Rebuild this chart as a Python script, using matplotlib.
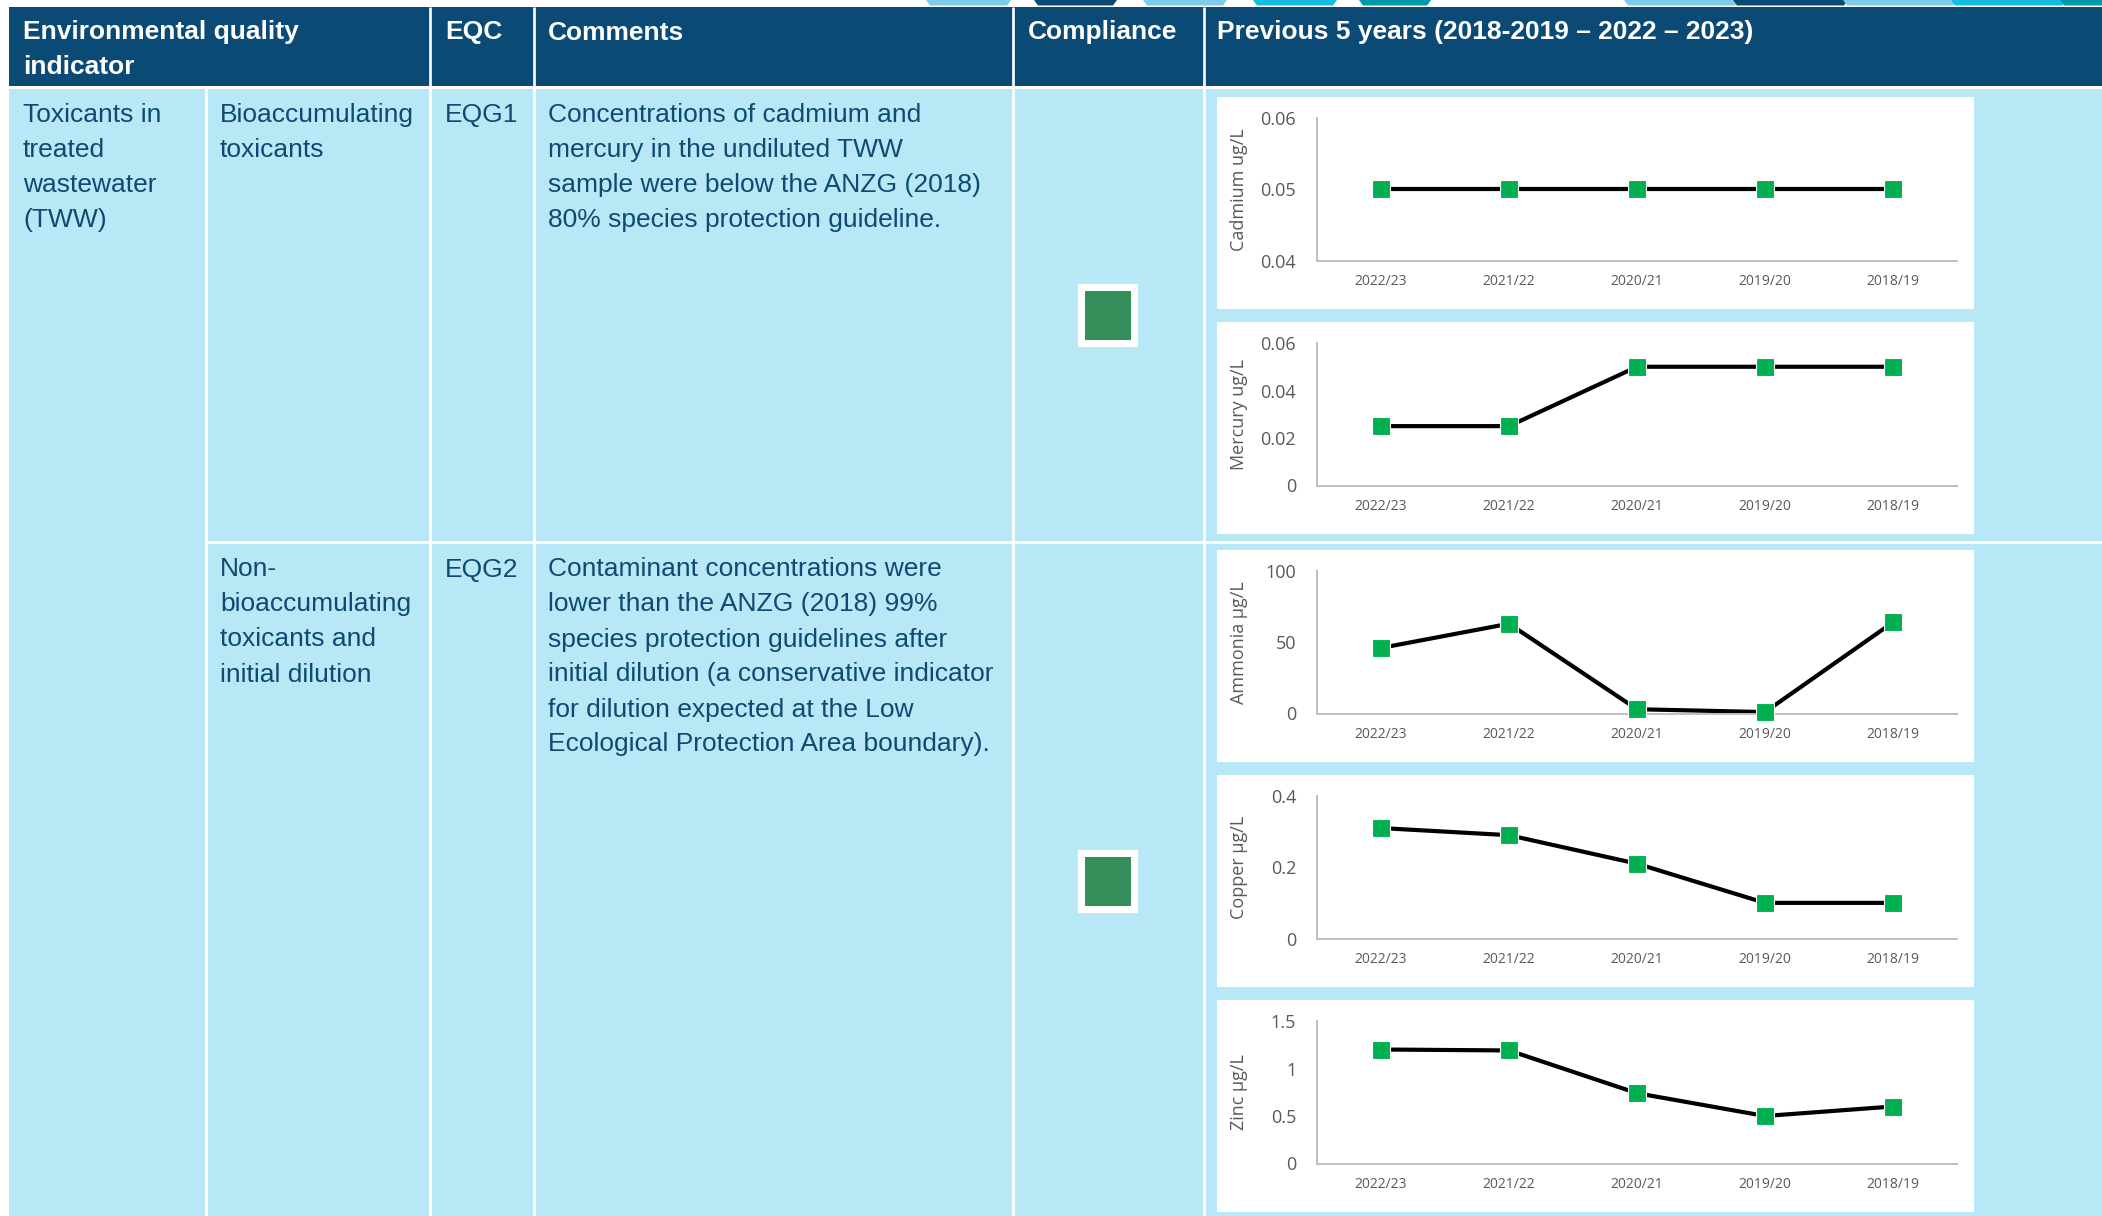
import matplotlib
matplotlib.use("Agg")
import matplotlib.pyplot as plt
from matplotlib.patches import Rectangle, Polygon

# ---- data -------------------------------------------------------------
years = ["2022/23", "2021/22", "2020/21", "2019/20", "2018/19"]

cadmium = [0.05, 0.05, 0.05, 0.05, 0.05]
mercury = [0.025, 0.025, 0.05, 0.05, 0.05]
ammonia = [46, 63, 3, 1, 64]
copper = [0.31, 0.29, 0.21, 0.10, 0.10]
zinc = [1.20, 1.19, 0.74, 0.50, 0.60]

cadmium_ticks = [0.04, 0.05, 0.06]
cadmium_ticklabels = ["0.04", "0.05", "0.06"]
mercury_ticks = [0, 0.02, 0.04, 0.06]
mercury_ticklabels = ["0", "0.02", "0.04", "0.06"]
ammonia_ticks = [0, 50, 100]
ammonia_ticklabels = ["0", "50", "100"]
copper_ticks = [0, 0.2, 0.4]
copper_ticklabels = ["0", "0.2", "0.4"]
zinc_ticks = [0, 0.5, 1.0, 1.5]
zinc_ticklabels = ["0", "0.5", "1", "1.5"]

header_cells = [
    (["Environmental quality", "indicator"], 23),
    (["EQC"], 445),
    (["Comments"], 548),
    (["Compliance"], 1028),
    (["Previous 5 years (2018-2019 \u2013 2022 \u2013 2023)"], 1217),
]

row1_cells = [
    (["Toxicants in", "treated", "wastewater", "(TWW)"], 23),
    (["Bioaccumulating", "toxicants"], 220),
    (["EQG1"], 445),
    (["Concentrations of cadmium and",
      "mercury in the undiluted TWW",
      "sample were below the ANZG (2018)",
      "80% species protection guideline."], 548),
]
row2_cells = [
    (["Non-", "bioaccumulating", "toxicants and", "initial dilution"], 220),
    (["EQG2"], 445),
    (["Contaminant concentrations were",
      "lower than the ANZG (2018) 99%",
      "species protection guidelines after",
      "initial dilution (a conservative indicator",
      "for dilution expected at the Low",
      "Ecological Protection Area boundary)."], 548),
]

# ---- styling ----------------------------------------------------------
W, H = 2102, 1216
HEADER = "#0B4A75"
BODY = "#B8E7F5"
TEXT = "#0E4A72"
MARK = "#00B050"
COMPLY = "#358F5A"
AXIS_GREY = "#BFBFBF"
TICK_GREY = "#595959"
TABLE_FONT = "Liberation Sans"
CHART_FONT = "Open Sans"

fig = plt.figure(figsize=(W / 100, H / 100), dpi=100)
bg = fig.add_axes([0, 0, 1, 1])
bg.set_xlim(0, W)
bg.set_ylim(H, 0)
bg.axis("off")

# decorative banner strip along the top edge
banner = [
    (930, 1007, "#7DCDEA"), (1038, 1113, "#0B4A75"), (1147, 1223, "#7DCDEA"),
    (1257, 1333, "#12BDE0"), (1363, 1427, "#0097A7"),
    (1628, 1735, "#7DCDEA"), (1737, 1844, "#0B4A75"), (1847, 1953, "#7DCDEA"),
    (1955, 2062, "#12BDE0"), (2064, 2110, "#0097A7"),
]
for x0, x1, c in banner:
    bg.add_patch(Polygon([(x0 - 4, 0), (x1 + 4, 0), (x1, 5.5), (x0, 5.5)],
                         closed=True, facecolor=c, edgecolor="none"))

# table background
cols = [9, 206, 430, 534, 1013, 1204, W]
bg.add_patch(Rectangle((9, 7), W - 9, 79, facecolor=HEADER, edgecolor="none"))
bg.add_patch(Rectangle((9, 88.5), W - 9, H - 88.5, facecolor=BODY, edgecolor="none"))
for x in cols[2:-1]:
    bg.plot([x, x], [7, 88], color="white", lw=1.9, solid_capstyle="butt")
for x in cols[1:-1]:
    bg.plot([x, x], [88, H], color="white", lw=1.9, solid_capstyle="butt")
bg.plot([206, W], [542, 542], color="white", lw=1.9, solid_capstyle="butt")

# table text
LS = 35.0
for lines, x in header_cells:
    for i, s in enumerate(lines):
        bg.text(x, 39.5 + i * LS, s, color="white", fontsize=19,
                fontweight="bold", family=TABLE_FONT, va="baseline", ha="left")
for cells, base in ((row1_cells, 121.7), (row2_cells, 576.5)):
    for lines, x in cells:
        for i, s in enumerate(lines):
            bg.text(x, base + i * LS, s, color=TEXT, fontsize=19,
                    family=TABLE_FONT, va="baseline", ha="left")

# compliance indicators
for top in (284, 850):
    bg.add_patch(Rectangle((1078, top), 60, 63, facecolor="white", edgecolor="none"))
    bg.add_patch(Rectangle((1085, top + 7), 46, 49, facecolor=COMPLY, edgecolor="none"))

# ---- trend charts -----------------------------------------------------
charts = [
    (97, cadmium, (0.04, 0.06), cadmium_ticks, cadmium_ticklabels, "Cadmium ug/L"),
    (322, mercury, (0, 0.06), mercury_ticks, mercury_ticklabels, "Mercury ug/L"),
    (550, ammonia, (0, 100), ammonia_ticks, ammonia_ticklabels, "Ammonia \u00b5g/L"),
    (775, copper, (0, 0.4), copper_ticks, copper_ticklabels, "Copper \u00b5g/L"),
    (1000, zinc, (0, 1.5), zinc_ticks, zinc_ticklabels, "Zinc \u00b5g/L"),
]

PANEL_L, PANEL_R, PANEL_H = 1217, 1974, 212
AX_L, AX_R = 1317, 1957

for top, values, ylim, ticks, ticklabels, label in charts:
    bg.add_patch(Rectangle((PANEL_L, top), PANEL_R - PANEL_L, PANEL_H,
                           facecolor="white", edgecolor="none"))
    ax_top = top + 21
    ax_bot = top + 163.5
    ax = fig.add_axes([AX_L / W, 1 - ax_bot / H, (AX_R - AX_L) / W, (ax_bot - ax_top) / H])
    ax.set_facecolor("none")
    x = list(range(len(years)))
    ax.plot(x, values, color="black", lw=3.0, zorder=2, clip_on=False)
    ax.plot(x, values, ls="none", marker="s", ms=13.5, mfc=MARK,
            mec="white", mew=0.8, zorder=3, clip_on=False)
    ax.set_xlim(-0.5, len(years) - 0.5)
    ax.set_ylim(*ylim)
    ax.set_xticks(x)
    ax.set_xticklabels(years, fontsize=10, family=CHART_FONT, color=TICK_GREY)
    ax.set_yticks(ticks)
    ax.set_yticklabels(ticklabels, fontsize=13, family=CHART_FONT, color=TICK_GREY)
    ax.tick_params(axis="both", length=0)
    ax.tick_params(axis="y", pad=15)
    ax.tick_params(axis="x", pad=10)
    for side in ("top", "right"):
        ax.spines[side].set_visible(False)
    for side in ("left", "bottom"):
        ax.spines[side].set_color(AXIS_GREY)
        ax.spines[side].set_linewidth(1.4)
    ax.text(-(AX_L - 1238.5) / (AX_R - AX_L), 0.5, label, rotation=90,
            ha="center", va="center", transform=ax.transAxes,
            fontsize=13, family=CHART_FONT, color=TICK_GREY)

fig.savefig("out.png", dpi=100, facecolor="white")
